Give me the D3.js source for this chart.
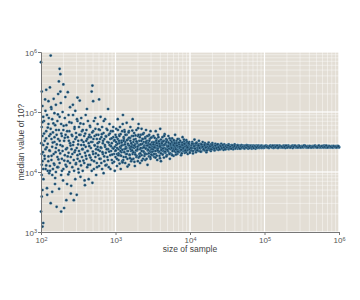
<!DOCTYPE html>
<html>
<head>
<meta charset="utf-8">
<script src="https://cdn.jsdelivr.net/npm/d3@7"></script>
<style>
  body { margin: 0; background: #fff; }
  text { font-family: "Liberation Sans", Arial, sans-serif; }
</style>
</head>
<body>
<svg id="chart"></svg>
<script>
// tick exponents
let xTickExp = [2, 3, 4, 5, 6];
let yTickExp = [3, 4, 5, 6];

// [log10 sample size, log10 median]
let pointsA = [[2.00,5.83],[2.13,5.94],[2.01,5.34],[2.02,5.10],[2.03,4.92],[2.01,4.75],[2.02,4.60],[2.03,4.45],[2.01,4.30],[2.02,4.18],[2.03,4.05],[2.01,3.95],[2.02,3.70],[2.01,3.59],[2.00,3.34],[2.02,3.09],[2.03,3.15],[2.04,4.85],[2.05,4.52],[2.05,4.22],[2.06,5.02],[2.06,4.38],[2.07,5.37],[2.07,4.68],[2.07,4.11],[2.08,4.95],[2.08,3.73],[2.09,4.47],[2.09,4.02],[2.10,5.18],[2.10,4.80],[2.10,4.26],[2.11,4.60],[2.11,3.98],[2.12,5.41],[2.12,4.35],[2.12,4.10],[2.13,4.72],[2.13,3.48],[2.14,5.05],[2.14,4.55],[2.14,4.20],[2.15,4.88],[2.15,4.42],[2.15,3.67],[2.16,4.05],[2.16,4.66],[2.17,5.22],[2.17,4.30],[2.18,4.98],[2.18,4.50],[2.18,4.12],[2.19,4.78],[2.19,3.90],[2.20,5.12],[2.20,4.40],[2.20,4.00],[2.21,4.62],[2.21,3.42],[2.22,4.85],[2.22,4.25],[2.23,5.30],[2.23,4.55],[2.23,4.08],[2.24,5.51],[2.24,4.70],[2.24,4.36],[2.25,5.72],[2.25,4.92],[2.25,4.15]];

let pointsB = [[2.26,5.63],[2.26,5.34],[2.26,4.45],[2.27,4.80],[2.27,3.95],[2.27,3.34],[2.28,4.60],[2.28,4.22],[2.29,5.00],[2.29,4.35],[2.30,5.46],[2.30,4.70],[2.30,4.05],[2.31,4.52],[2.31,3.40],[2.32,4.90],[2.32,4.28],[2.33,4.62],[2.33,4.12],[2.34,4.78],[2.34,3.53],[2.35,4.40],[2.35,3.80],[2.36,5.33],[2.36,4.58],[2.36,4.18],[2.37,4.95],[2.37,4.32],[2.38,4.68],[2.38,4.00],[2.39,5.08],[2.39,4.48],[2.40,4.25],[2.40,3.64],[2.41,4.82],[2.41,4.38],[2.42,4.60],[2.42,4.08],[2.43,4.95],[2.43,4.45],[2.44,4.20],[2.44,3.53],[2.45,4.72],[2.45,4.33],[2.46,5.02],[2.46,4.55],[2.46,3.88],[2.47,4.15],[2.47,4.65],[2.48,4.40],[2.48,3.62],[2.49,5.24],[2.49,4.85],[2.49,4.28],[2.50,4.52],[2.50,4.05]];

let pointsC = [[2.51,4.75],[2.51,4.35],[2.52,5.19],[2.52,4.18],[2.53,4.62],[2.53,3.92],[2.54,4.90],[2.54,4.45],[2.55,4.25],[2.55,4.68],[2.56,4.38],[2.56,4.02],[2.57,4.80],[2.57,4.50],[2.58,4.15],[2.58,4.60],[2.59,4.32],[2.59,3.78],[2.60,4.95],[2.60,4.42],[2.61,4.22],[2.61,4.70],[2.62,4.55],[2.62,4.08],[2.63,4.35],[2.63,4.85],[2.64,4.48],[2.64,3.88],[2.65,4.62],[2.65,4.28],[2.66,4.12],[2.66,4.75],[2.67,4.40],[2.67,4.58],[2.68,5.34],[2.68,4.20],[2.69,5.44],[2.69,4.50],[2.69,3.82],[2.70,5.18],[2.70,4.68],[2.70,4.30],[2.71,4.05],[2.71,4.85],[2.72,4.45],[2.72,4.60],[2.73,4.25],[2.73,4.72],[2.74,4.38],[2.74,3.95],[2.75,4.55],[2.75,4.15]];

let pointsD = [[2.76,4.80],[2.76,4.42],[2.77,4.28],[2.77,4.62],[2.78,5.21],[2.78,4.50],[2.78,4.10],[2.79,4.70],[2.79,4.35],[2.80,4.92],[2.80,4.22],[2.81,4.58],[2.81,4.40],[2.82,4.05],[2.82,4.75],[2.83,4.48],[2.83,4.30],[2.84,4.65],[2.84,3.98],[2.85,4.55],[2.85,4.18],[2.86,4.88],[2.86,4.42],[2.87,4.32],[2.87,4.60],[2.88,4.12],[2.88,4.72],[2.89,4.50],[2.89,4.25],[2.90,4.38],[2.90,5.05],[2.91,4.62],[2.91,4.08],[2.92,4.45],[2.92,4.80],[2.93,4.28],[2.93,4.55],[2.94,4.35],[2.94,4.68],[2.95,4.20],[2.95,4.48],[2.96,4.40],[2.96,4.15],[2.97,4.58],[2.97,4.75],[2.98,4.30],[2.98,4.52],[2.99,4.02],[2.99,4.42],[3.00,4.62],[3.00,4.25]];

let pointsD2 = [[2.004,4.48],[2.011,4.12],[2.018,4.83],[2.026,4.33],[2.033,3.88],[2.041,4.64],[2.047,4.27],[2.055,5.21],[2.062,4.05],[2.069,4.56],[2.076,4.41],[2.083,3.62],[2.091,4.74],[2.098,4.18],[2.105,4.90],[2.113,4.36],[2.121,4.02],[2.127,4.63],[2.136,5.08],[2.142,4.27],[2.151,3.95],[2.158,4.49],[2.166,4.81],[2.173,4.14],[2.181,4.58],[2.188,3.80],[2.196,4.33],[2.203,4.70],[2.212,4.46],[2.219,4.08],[2.227,4.96],[2.234,4.21],[2.243,3.72],[2.251,4.52],[2.258,4.31],[2.266,5.15],[2.273,4.64],[2.281,4.02],[2.289,4.43],[2.296,3.86],[2.304,4.77],[2.312,4.19],[2.319,4.57],[2.327,5.25],[2.336,4.38],[2.343,4.09],[2.351,4.68],[2.358,4.26],[2.366,3.96],[2.374,4.52],[2.381,4.83],[2.389,4.15],[2.397,4.44],[2.405,3.77],[2.412,4.62],[2.421,4.30],[2.428,5.12],[2.436,4.50],[2.444,4.02],[2.451,4.75],[2.459,4.36],[2.468,4.13],[2.475,4.58],[2.483,4.88],[2.491,4.22],[2.498,4.46],[2.506,3.99],[2.514,4.62],[2.522,4.30],[2.529,4.81],[2.537,4.11],[2.546,4.53],[2.553,4.38],[2.561,4.70],[2.569,4.19],[2.577,4.45],[2.585,3.86],[2.593,4.64],[2.601,4.27],[2.608,4.52],[2.617,5.05],[2.624,4.35],[2.632,4.12],[2.641,4.58],[2.648,4.43],[2.656,4.77],[2.664,4.24],[2.672,4.50],[2.681,4.02],[2.688,4.66],[2.696,4.34],[2.704,4.55],[2.712,4.18],[2.721,4.44],[2.728,4.90],[2.736,4.31],[2.744,4.62],[2.752,4.08],[2.761,4.48],[2.768,4.37],[2.776,4.71],[2.785,4.22],[2.792,4.55],[2.801,4.41],[2.809,4.15],[2.817,4.63],[2.825,4.33],[2.833,4.52],[2.842,4.85],[2.849,4.26],[2.858,4.45],[2.866,4.11],[2.874,4.59],[2.882,4.38],[2.891,4.70],[2.898,4.20],[2.907,4.49],[2.915,4.34],[2.923,4.64],[2.932,4.05],[2.939,4.43],[2.948,4.56],[2.956,4.29],[2.964,4.68],[2.972,4.39],[2.981,4.17],[2.988,4.53],[2.996,4.35]];

let pointsE = [[3.01,4.45],[3.01,4.72],[3.02,4.30],[3.02,4.10],[3.03,4.55],[3.03,4.88],[3.04,4.38],[3.04,4.20],[3.05,4.62],[3.05,4.48],[3.06,4.28],[3.06,4.75],[3.07,4.40],[3.07,4.05],[3.08,4.52],[3.08,4.33],[3.09,4.68],[3.09,4.18],[3.10,4.45],[3.10,4.95],[3.11,4.25],[3.11,4.58],[3.12,4.38],[3.12,4.70],[3.13,4.15],[3.13,4.50],[3.14,4.42],[3.14,4.30],[3.15,4.62],[3.15,4.82],[3.16,4.35],[3.16,4.22],[3.17,4.55],[3.17,4.45],[3.18,4.12],[3.18,4.68],[3.19,4.40],[3.19,4.28],[3.20,4.52],[3.20,4.75],[3.21,4.35],[3.21,4.18],[3.22,4.60],[3.22,4.45],[3.23,4.30],[3.23,4.88],[3.24,4.50],[3.24,4.22],[3.25,4.40],[3.25,4.65],[3.26,4.32],[3.26,4.10],[3.27,4.55],[3.27,4.42],[3.28,4.25],[3.28,4.70],[3.29,4.48],[3.29,4.36],[3.30,4.60],[3.30,4.18],[3.31,4.44],[3.31,4.80],[3.32,4.30],[3.32,4.52],[3.33,4.38],[3.33,4.15],[3.34,4.62],[3.34,4.46],[3.35,4.28],[3.35,4.72],[3.36,4.40],[3.36,4.55],[3.37,4.22],[3.37,4.35],[3.38,4.50],[3.38,4.65],[3.39,4.32],[3.39,4.44],[3.40,4.58],[3.40,4.20],[3.41,4.40],[3.41,4.70],[3.42,4.30],[3.42,4.52],[3.43,4.38],[3.43,4.12],[3.44,4.48],[3.44,4.60],[3.45,4.26],[3.45,4.42],[3.46,4.55],[3.46,4.35],[3.47,4.68],[3.47,4.22],[3.48,4.45],[3.48,4.33],[3.49,4.58],[3.49,4.40],[3.50,4.28],[3.50,4.50]];

let pointsE2 = [[3.004,4.36],[3.012,4.58],[3.018,4.22],[3.026,4.47],[3.033,4.70],[3.041,4.31],[3.047,4.52],[3.055,4.14],[3.062,4.42],[3.068,4.63],[3.076,4.27],[3.083,4.49],[3.091,4.37],[3.097,4.80],[3.104,4.20],[3.112,4.55],[3.118,4.33],[3.126,4.46],[3.133,4.62],[3.139,4.25],[3.147,4.40],[3.154,4.53],[3.161,4.09],[3.168,4.35],[3.176,4.66],[3.183,4.44],[3.189,4.29],[3.197,4.57],[3.204,4.38],[3.211,4.48],[3.218,4.21],[3.226,4.69],[3.233,4.41],[3.239,4.33],[3.247,4.54],[3.254,4.17],[3.261,4.46],[3.268,4.61],[3.276,4.36],[3.283,4.27],[3.289,4.50],[3.297,4.42],[3.304,4.73],[3.311,4.24],[3.318,4.45],[3.326,4.58],[3.333,4.31],[3.339,4.40],[3.347,4.52],[3.354,4.19],[3.361,4.47],[3.368,4.63],[3.376,4.34],[3.383,4.43],[3.389,4.27],[3.397,4.56],[3.404,4.39],[3.411,4.48],[3.418,4.22],[3.426,4.60],[3.433,4.36],[3.439,4.45],[3.447,4.31],[3.454,4.52],[3.461,4.41],[3.468,4.25],[3.476,4.57],[3.483,4.38],[3.489,4.49],[3.497,4.34],[3.008,4.50],[3.022,4.40],[3.037,4.28],[3.052,4.60],[3.066,4.35],[3.081,4.44],[3.095,4.16],[3.109,4.52],[3.123,4.67],[3.137,4.39],[3.152,4.30],[3.166,4.47],[3.181,4.57],[3.195,4.23],[3.209,4.42],[3.224,4.36],[3.238,4.60],[3.252,4.44],[3.266,4.29],[3.281,4.51],[3.295,4.38],[3.309,4.62],[3.324,4.26],[3.338,4.46],[3.352,4.35],[3.366,4.55],[3.381,4.41],[3.395,4.30],[3.409,4.50],[3.424,4.44],[3.438,4.37],[3.452,4.62],[3.466,4.46],[3.481,4.29],[3.495,4.42]];

let pointsF = [[3.51,4.42],[3.51,4.60],[3.52,4.35],[3.52,4.25],[3.53,4.50],[3.53,4.45],[3.54,4.30],[3.54,4.68],[3.55,4.40],[3.55,4.55],[3.56,4.20],[3.56,4.38],[3.57,4.48],[3.57,4.62],[3.58,4.33],[3.58,4.42],[3.59,4.52],[3.59,4.27],[3.60,4.45],[3.60,4.72],[3.61,4.36],[3.61,4.18],[3.62,4.50],[3.62,4.40],[3.63,4.58],[3.63,4.30],[3.64,4.44],[3.64,4.35],[3.65,4.52],[3.65,4.24],[3.66,4.40],[3.66,4.63],[3.67,4.46],[3.67,4.32],[3.68,4.38],[3.68,4.55],[3.69,4.28],[3.69,4.44],[3.70,4.50],[3.70,4.36],[3.71,4.42],[3.71,4.60],[3.72,4.32],[3.72,4.47],[3.73,4.40],[3.73,4.22],[3.74,4.53],[3.74,4.38],[3.75,4.45],[3.75,4.30],[3.76,4.56],[3.76,4.41],[3.77,4.35],[3.77,4.48],[3.78,4.42],[3.78,4.27],[3.79,4.50],[3.79,4.38],[3.80,4.44],[3.80,4.62],[3.81,4.33],[3.81,4.46],[3.82,4.40],[3.82,4.52],[3.83,4.30],[3.83,4.43],[3.84,4.48],[3.84,4.36],[3.85,4.41],[3.85,4.55],[3.86,4.34],[3.86,4.45],[3.87,4.39],[3.87,4.50],[3.88,4.28],[3.88,4.44],[3.89,4.47],[3.89,4.37],[3.90,4.42],[3.90,4.58],[3.91,4.35],[3.91,4.46],[3.92,4.40],[3.92,4.51],[3.93,4.32],[3.93,4.44],[3.94,4.48],[3.94,4.38],[3.95,4.42],[3.95,4.53],[3.96,4.36],[3.96,4.45],[3.97,4.40],[3.97,4.30],[3.98,4.47],[3.98,4.43],[3.99,4.37],[3.99,4.50],[4.00,4.41],[4.00,4.34]];

let pointsF2 = [[3.504,4.38],[3.511,4.49],[3.518,4.30],[3.526,4.57],[3.533,4.41],[3.539,4.35],[3.547,4.52],[3.554,4.27],[3.561,4.44],[3.568,4.39],[3.576,4.58],[3.583,4.34],[3.589,4.47],[3.597,4.23],[3.604,4.41],[3.611,4.54],[3.618,4.37],[3.626,4.45],[3.633,4.29],[3.639,4.51],[3.647,4.40],[3.654,4.60],[3.661,4.33],[3.668,4.47],[3.676,4.38],[3.683,4.26],[3.689,4.53],[3.697,4.42],[3.704,4.35],[3.711,4.49],[3.718,4.39],[3.726,4.56],[3.733,4.31],[3.739,4.44],[3.747,4.41],[3.754,4.50],[3.761,4.28],[3.768,4.45],[3.776,4.38],[3.783,4.53],[3.789,4.35],[3.797,4.43],[3.804,4.40],[3.811,4.29],[3.818,4.48],[3.826,4.37],[3.833,4.55],[3.839,4.42],[3.847,4.33],[3.854,4.46],[3.861,4.40],[3.868,4.52],[3.876,4.36],[3.883,4.41],[3.889,4.31],[3.897,4.49],[3.904,4.38],[3.911,4.44],[3.918,4.54],[3.926,4.35],[3.933,4.42],[3.939,4.47],[3.947,4.33],[3.954,4.40],[3.961,4.50],[3.968,4.37],[3.976,4.44],[3.983,4.39],[3.989,4.46],[3.997,4.32],[3.508,4.46],[3.522,4.41],[3.537,4.24],[3.552,4.48],[3.566,4.36],[3.581,4.51],[3.595,4.43],[3.609,4.31],[3.623,4.48],[3.637,4.39],[3.652,4.45],[3.666,4.34],[3.681,4.50],[3.695,4.37],[3.709,4.43],[3.724,4.30],[3.738,4.47],[3.752,4.40],[3.766,4.35],[3.781,4.45],[3.795,4.48],[3.809,4.38],[3.824,4.44],[3.838,4.34],[3.852,4.49],[3.866,4.42],[3.881,4.37],[3.895,4.45],[3.909,4.40],[3.924,4.47],[3.938,4.36],[3.952,4.43],[3.966,4.41],[3.981,4.48],[3.995,4.38]];

let pointsG = [[4.02,4.44],[4.02,4.36],[4.03,4.50],[4.04,4.40],[4.04,4.31],[4.05,4.47],[4.06,4.42],[4.06,4.54],[4.07,4.37],[4.08,4.45],[4.08,4.33],[4.09,4.49],[4.10,4.41],[4.10,4.38],[4.11,4.46],[4.12,4.35],[4.12,4.52],[4.13,4.43],[4.14,4.39],[4.14,4.47],[4.15,4.34],[4.16,4.44],[4.16,4.41],[4.17,4.50],[4.18,4.37],[4.18,4.45],[4.19,4.42],[4.20,4.36],[4.20,4.48],[4.21,4.40],[4.22,4.44],[4.22,4.33],[4.23,4.46],[4.24,4.39],[4.24,4.42],[4.25,4.49],[4.26,4.37],[4.26,4.44],[4.27,4.41],[4.28,4.46],[4.28,4.35],[4.29,4.43],[4.30,4.40],[4.30,4.48],[4.31,4.38],[4.32,4.44],[4.32,4.42],[4.33,4.36],[4.34,4.47],[4.34,4.40],[4.35,4.43],[4.36,4.38],[4.36,4.45],[4.37,4.41],[4.38,4.46],[4.38,4.37],[4.39,4.43],[4.40,4.40],[4.40,4.44],[4.41,4.38],[4.42,4.47],[4.42,4.42],[4.43,4.39],[4.44,4.45],[4.44,4.41],[4.45,4.37],[4.46,4.43],[4.46,4.46],[4.47,4.40],[4.48,4.44],[4.48,4.38],[4.49,4.42],[4.50,4.45],[4.50,4.40],[4.51,4.43],[4.52,4.38],[4.52,4.46],[4.53,4.41],[4.54,4.44],[4.54,4.39],[4.55,4.42],[4.56,4.45],[4.56,4.40],[4.57,4.43],[4.58,4.38],[4.58,4.44],[4.59,4.41],[4.60,4.46],[4.60,4.42],[4.61,4.39],[4.62,4.44],[4.62,4.41],[4.63,4.43],[4.64,4.39],[4.64,4.45],[4.65,4.42],[4.66,4.40],[4.66,4.44],[4.67,4.41],[4.68,4.43],[4.68,4.39],[4.69,4.45],[4.70,4.42],[4.70,4.40],[4.71,4.44],[4.72,4.41],[4.72,4.43],[4.73,4.39],[4.74,4.44],[4.74,4.42],[4.75,4.40],[4.76,4.43],[4.76,4.45],[4.77,4.41],[4.78,4.42],[4.78,4.39],[4.79,4.44],[4.80,4.41],[4.80,4.43],[4.81,4.40],[4.82,4.44],[4.82,4.42],[4.83,4.39],[4.84,4.43],[4.84,4.41],[4.85,4.44],[4.86,4.40],[4.86,4.42],[4.87,4.43],[4.88,4.41],[4.88,4.39],[4.89,4.44],[4.90,4.42],[4.90,4.40],[4.91,4.43],[4.92,4.41],[4.92,4.44],[4.93,4.40],[4.94,4.42],[4.94,4.43],[4.95,4.41],[4.96,4.44],[4.96,4.40],[4.97,4.42],[4.98,4.43],[4.98,4.41],[4.99,4.40],[5.00,4.43],[5.00,4.41]];

let pointsG2 = [[4.013,4.40],[4.027,4.47],[4.041,4.35],[4.055,4.43],[4.069,4.39],[4.083,4.48],[4.097,4.36],[4.113,4.44],[4.127,4.40],[4.141,4.34],[4.155,4.46],[4.169,4.42],[4.183,4.38],[4.197,4.45],[4.213,4.41],[4.227,4.36],[4.241,4.46],[4.255,4.40],[4.269,4.43],[4.283,4.38],[4.297,4.45],[4.313,4.41],[4.327,4.39],[4.341,4.44],[4.355,4.40],[4.369,4.46],[4.383,4.41],[4.397,4.38],[4.413,4.43],[4.427,4.40],[4.441,4.45],[4.455,4.41],[4.469,4.38],[4.483,4.43],[4.497,4.41],[4.513,4.44],[4.527,4.40],[4.541,4.42],[4.555,4.39],[4.569,4.44],[4.583,4.41],[4.597,4.43],[4.613,4.40],[4.627,4.42],[4.641,4.44],[4.655,4.41],[4.669,4.39],[4.683,4.43],[4.697,4.41],[4.713,4.42],[4.727,4.40],[4.741,4.43],[4.755,4.41],[4.769,4.44],[4.783,4.42],[4.797,4.40],[4.813,4.43],[4.827,4.41],[4.841,4.42],[4.855,4.40],[4.869,4.43],[4.883,4.42],[4.897,4.41],[4.913,4.43],[4.927,4.41],[4.941,4.42],[4.955,4.43],[4.969,4.41],[4.983,4.42],[4.997,4.42]];

let pointsH = [[5.02,4.42],[5.02,4.44],[5.04,4.41],[5.04,4.43],[5.06,4.42],[5.06,4.40],[5.08,4.43],[5.08,4.44],[5.10,4.41],[5.10,4.42],[5.12,4.43],[5.12,4.40],[5.14,4.42],[5.14,4.44],[5.16,4.41],[5.16,4.43],[5.18,4.42],[5.18,4.40],[5.20,4.43],[5.20,4.44],[5.22,4.41],[5.22,4.42],[5.24,4.43],[5.24,4.41],[5.26,4.42],[5.26,4.44],[5.28,4.40],[5.28,4.43],[5.30,4.42],[5.30,4.41],[5.32,4.43],[5.32,4.44],[5.34,4.42],[5.34,4.41],[5.36,4.43],[5.36,4.42],[5.38,4.40],[5.38,4.44],[5.40,4.42],[5.40,4.43],[5.42,4.41],[5.42,4.42],[5.44,4.43],[5.44,4.41],[5.46,4.42],[5.46,4.44],[5.48,4.42],[5.48,4.41],[5.50,4.43],[5.50,4.42],[5.52,4.41],[5.52,4.43],[5.54,4.42],[5.54,4.44],[5.56,4.41],[5.56,4.42],[5.58,4.43],[5.58,4.41],[5.60,4.42],[5.60,4.43],[5.62,4.41],[5.62,4.42],[5.64,4.43],[5.64,4.42],[5.66,4.41],[5.66,4.43],[5.68,4.42],[5.68,4.44],[5.70,4.41],[5.70,4.42],[5.72,4.43],[5.72,4.42],[5.74,4.41],[5.74,4.43],[5.76,4.42],[5.76,4.41],[5.78,4.43],[5.78,4.42],[5.80,4.42],[5.80,4.44],[5.82,4.41],[5.82,4.43],[5.84,4.42],[5.84,4.41],[5.86,4.43],[5.86,4.42],[5.88,4.42],[5.88,4.41],[5.90,4.43],[5.90,4.42],[5.92,4.41],[5.92,4.43],[5.94,4.42],[5.94,4.42],[5.96,4.43],[5.96,4.41],[5.98,4.42],[5.98,4.43],[6.00,4.42],[6.00,4.41]];

let pointsH2 = [[5.01,4.43],[5.03,4.42],[5.05,4.41],[5.07,4.43],[5.09,4.42],[5.11,4.44],[5.13,4.41],[5.15,4.42],[5.17,4.44],[5.19,4.41],[5.21,4.43],[5.23,4.42],[5.25,4.41],[5.27,4.42],[5.29,4.44],[5.31,4.41],[5.33,4.42],[5.35,4.41],[5.37,4.43],[5.39,4.42],[5.41,4.44],[5.43,4.42],[5.45,4.41],[5.47,4.43],[5.49,4.41],[5.51,4.42],[5.53,4.44],[5.55,4.43],[5.57,4.42],[5.59,4.41],[5.61,4.43],[5.63,4.41],[5.65,4.42],[5.67,4.43],[5.69,4.42],[5.71,4.41],[5.73,4.44],[5.75,4.42],[5.77,4.43],[5.79,4.41],[5.81,4.42],[5.83,4.44],[5.85,4.41],[5.87,4.43],[5.89,4.42],[5.91,4.41],[5.93,4.43],[5.95,4.42],[5.97,4.41],[5.99,4.43]];

let xLabel = 'size of sample';
let yLabel = 'median value of 10?';

let width = 360, height = 300;
let margin = { left: 41, right: 21, top: 52, bottom: 68 };

let svg = d3.select('#chart').attr('width', width).attr('height', height);

let xScale = d3.scaleLog()
    .domain([1e2, 1e6])
    .range([margin.left, width - margin.right]);
let yScale = d3.scaleLog()
    .domain([1e3, 1e6])
    .range([height - margin.bottom, margin.top]);

let x0 = margin.left, x1 = width - margin.right;
let y0 = height - margin.bottom, y1 = margin.top;

// plot background
svg.append('rect')
    .attr('x', x0).attr('y', y1)
    .attr('width', x1 - x0).attr('height', y0 - y1)
    .attr('fill', '#e3ded5');

// grid (minor then major)
let xMinor = xScale.ticks(40);
let yMinor = yScale.ticks(30);
let grid = svg.append('g');
grid.selectAll('.vx').data(xMinor).enter().append('line')
    .attr('x1', (d) => xScale(d)).attr('x2', (d) => xScale(d))
    .attr('y1', y1).attr('y2', y0)
    .attr('stroke', '#fff').attr('stroke-opacity', 0.55).attr('stroke-width', 0.8);
grid.selectAll('.hy').data(yMinor).enter().append('line')
    .attr('y1', (d) => yScale(d)).attr('y2', (d) => yScale(d))
    .attr('x1', x0).attr('x2', x1)
    .attr('stroke', '#fff').attr('stroke-opacity', 0.55).attr('stroke-width', 0.8);
grid.selectAll('.mx').data(xTickExp).enter().append('line')
    .attr('x1', (d) => xScale(Math.pow(10, d))).attr('x2', (d) => xScale(Math.pow(10, d)))
    .attr('y1', y1).attr('y2', y0)
    .attr('stroke', '#fff').attr('stroke-width', 1.2);
grid.selectAll('.my').data(yTickExp).enter().append('line')
    .attr('y1', (d) => yScale(Math.pow(10, d))).attr('y2', (d) => yScale(Math.pow(10, d)))
    .attr('x1', x0).attr('x2', x1)
    .attr('stroke', '#fff').attr('stroke-width', 1.2);

// points
let allPoints = [].concat(pointsA, pointsB, pointsC, pointsD, pointsD2, pointsE, pointsE2,
    pointsF, pointsF2, pointsG, pointsG2, pointsH, pointsH2);
svg.append('g')
    .selectAll('circle')
    .data(allPoints)
    .enter()
    .append('circle')
    .attr('cx', (d) => xScale(Math.pow(10, d[0])))
    .attr('cy', (d) => yScale(Math.pow(10, d[1])))
    .attr('r', 1.35)
    .attr('fill', '#1b4665')
    .attr('stroke', '#7fb6d6')
    .attr('stroke-opacity', 0.7)
    .attr('stroke-width', 0.4);

// axes
let supLabel = (sel, exp) => {
    sel.text('10');
    sel.append('tspan').attr('dy', '-0.45em').attr('font-size', '5.5px').text(exp);
};

let xAxis = d3.axisBottom(xScale)
    .tickValues(xTickExp.map((e) => Math.pow(10, e)))
    .tickSize(3).tickFormat('');
let gx = svg.append('g')
    .attr('transform', `translate(0, ${y0})`)
    .call(xAxis);
gx.select('.domain').attr('stroke', '#777');
gx.selectAll('.tick line').attr('stroke', '#777');
gx.selectAll('.tick text').remove();
gx.selectAll('.tick').each(function (d, i) {
    d3.select(this).append('text')
        .attr('y', 11).attr('text-anchor', 'middle')
        .attr('fill', '#555').attr('font-size', '8px')
        .call(supLabel, xTickExp[i]);
});

let yAxis = d3.axisLeft(yScale)
    .tickValues(yTickExp.map((e) => Math.pow(10, e)))
    .tickSize(3).tickFormat('');
let gy = svg.append('g')
    .attr('transform', `translate(${x0}, 0)`)
    .call(yAxis);
gy.select('.domain').attr('stroke', '#777');
gy.selectAll('.tick line').attr('stroke', '#777');
gy.selectAll('.tick text').remove();
gy.selectAll('.tick').each(function (d, i) {
    d3.select(this).append('text')
        .attr('x', -4).attr('y', 3).attr('text-anchor', 'end')
        .attr('fill', '#555').attr('font-size', '8px')
        .call(supLabel, yTickExp[i]);
});

// axis titles
svg.append('text')
    .attr('x', (x0 + x1) / 2).attr('y', y0 + 20)
    .attr('text-anchor', 'middle')
    .attr('fill', '#444').attr('font-size', '8.5px')
    .text(xLabel);
svg.append('text')
    .attr('transform', `translate(24, ${(y0 + y1) / 2}) rotate(-90)`)
    .attr('text-anchor', 'middle')
    .attr('fill', '#444').attr('font-size', '8.5px')
    .text(yLabel);
</script>
</body>
</html>
